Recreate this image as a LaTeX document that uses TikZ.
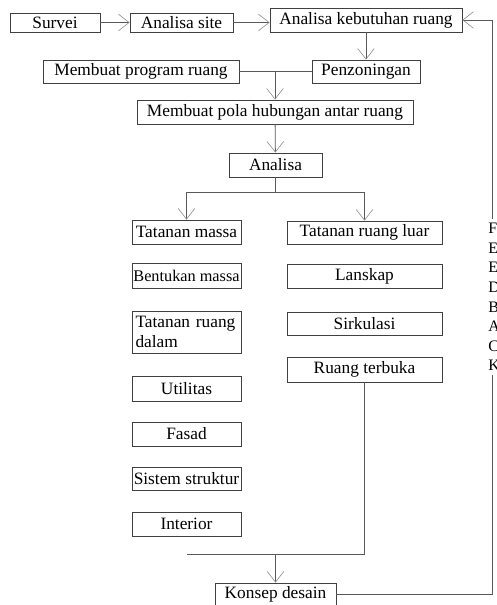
\documentclass[tikz,border=0pt]{standalone}
\usepackage{fontspec}
\setmainfont{Liberation Serif}
\usetikzlibrary{arrows.meta}
\begin{document}
\begin{tikzpicture}[x=0.75pt,y=-0.75pt,
  bx/.style n args={2}{draw=black!75, line width=0.6pt, inner sep=0pt,
    minimum width=#1*0.75pt, minimum height=#2*0.75pt,
    font=\fontsize{13}{15}\selectfont},
  ln/.style={draw=black!65, line width=0.6pt},
  arr/.style={ln, -{Straight Barb[length=8pt,width=12.5pt,line width=0.45pt,color=black!45]}}]
\useasboundingbox (0,0) rectangle (496,605);
% top row
\node[bx={90}{19}] (sv) at (55,22.5) {Survei};
\node[bx={103}{19}] (as) at (181.5,22.5) {Analisa site};
\node[bx={192}{24}] (kr) at (366,20) {Analisa kebutuhan ruang};
\node[bx={196}{23}] (pr) at (141,71.5) {Membuat program ruang};
\node[bx={108}{23}] (pz) at (366,71.5) {Penzoningan};
\node[bx={276}{24}] (ph) at (275,112) {Membuat pola hubungan antar ruang};
\node[bx={93}{24}] (an) at (275.5,165) {Analisa};
% left column
\node[bx={109}{24}] (tm) at (186.5,232) {Tatanan massa};
\node[bx={109}{25}, font=\fontsize{12.2}{15}\selectfont] (bm) at (186.5,275.5) {Bentukan massa};
\node[bx={109}{42}, align=left, text width=102*0.75pt] (td) at (186.5,332) {Tatanan ruang\\dalam};
\node[bx={109}{25}] (ut) at (186.5,388.5) {Utilitas};
\node[bx={109}{24}] (fs) at (186.5,434) {Fasad};
\node[bx={109}{23}] (ss) at (186.5,478.5) {Sistem struktur};
\node[bx={109}{24}] (it) at (186.5,524) {Interior};
% right column
\node[bx={155}{23}] (tl) at (364.5,232.5) {Tatanan ruang luar};
\node[bx={155}{24}] (ls) at (364.5,276) {Lanskap};
\node[bx={155}{23}] (sk) at (364.5,323.5) {Sirkulasi};
\node[bx={155}{25}] (rt) at (364.5,369.5) {Ruang terbuka};
% bottom
\node[bx={121}{23}] (ks) at (275.5,594.5) {Konsep desain};
% helper coordinates
\coordinate (fbx) at (492,0);
\coordinate (j2) at (0,192);
\coordinate (j3) at (0,554);
% connectors
\draw[arr] (sv) -- (as);
\draw[arr] (as.east) -- (as.east -| kr.west);
\draw[arr] (kr) -- (pz);
\draw[ln] (pr.east) -- (pz.west);
\draw[arr] (pr.east -| ph.north) -- (ph.north);
\draw[arr] (ph) -- (an);
\draw[ln] (an.south) -- (an.south |- j2);
\draw[ln] (tm |- j2) -- (tl |- j2);
\draw[arr] (tm |- j2) -- (tm.north);
\draw[arr] (tl |- j2) -- (tl.north);
\draw[ln] (rt.south) -- (rt.south |- j3) -- (tm.south |- j3);
\draw[arr] (ks.north |- j3) -- (ks.north);
\draw[arr] (ks.east) -- (ks.east -| fbx) |- (kr.east);
% feedback label (cut at the right edge, as in the reference)
\node[fill=white, inner xsep=0pt, inner ysep=3pt, anchor=north west, align=left,
      font=\fontsize{12}{14.7}\selectfont] (fb) at (488,219) {F\\E\\E\\D\\B\\A\\C\\K};
\end{tikzpicture}
\end{document}
